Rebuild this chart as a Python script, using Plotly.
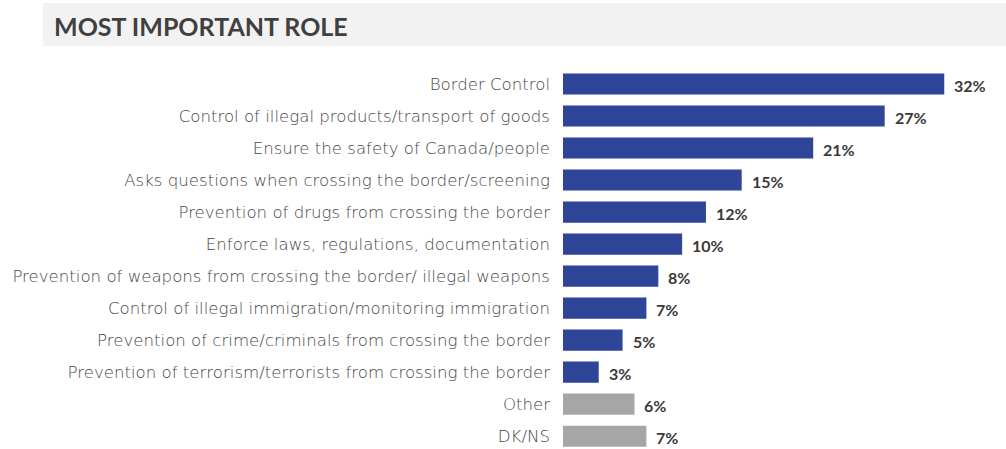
import plotly.graph_objects as go

categories = [
    "Border Control",
    "Control of illegal products/transport of goods",
    "Ensure the safety of Canada/people",
    "Asks questions when crossing the border/screening",
    "Prevention of drugs from crossing the border",
    "Enforce laws, regulations, documentation",
    "Prevention of weapons from crossing the border/ illegal weapons",
    "Control of illegal immigration/monitoring immigration",
    "Prevention of crime/criminals from crossing the border",
    "Prevention of terrorism/terrorists from crossing the border",
    "Other",
    "DK/NS",
]
values = [32, 27, 21, 15, 12, 10, 8, 7, 5, 3, 6, 7]
value_labels = [f"{v}%" for v in values]
bar_colors = ["#2E4598"] * 10 + ["#A6A6A6"] * 2

W, H = 1006, 449
L, R, T, B = 563, 26, 68, 0

fig = go.Figure(
    go.Bar(
        x=values,
        y=categories,
        orientation="h",
        marker=dict(color=bar_colors, line=dict(width=0)),
        width=0.66,
        cliponaxis=False,
    )
)

# Value labels just past the end of each bar
for cat, v, lab in zip(categories, values, value_labels):
    fig.add_annotation(
        x=v, y=cat, xref="x", yref="y",
        text=f"<b>{lab}</b>", showarrow=False,
        xanchor="left", yanchor="middle", xshift=8, yshift=-1,
        font=dict(family="Lato", size=16, color="#3A3A3A"),
    )

plot_w = W - L - R

def px_to_paper(px):
    return (px - L) / plot_w

plot_h = H - T - B

def py_to_paper(py):
    return (H - B - py) / plot_h

# Title band
fig.add_shape(
    type="rect", xref="paper", yref="paper",
    x0=px_to_paper(43), x1=px_to_paper(1006),
    y0=py_to_paper(46), y1=py_to_paper(3),
    fillcolor="#F2F2F2", line=dict(width=0), layer="below",
)
fig.add_annotation(
    xref="paper", yref="paper",
    x=px_to_paper(52), y=py_to_paper(26),
    xanchor="left", yanchor="middle",
    text="<b>MOST IMPORTANT ROLE</b>",
    showarrow=False,
    font=dict(family="Lato", size=25, color="#404040"),
)

fig.update_layout(
    width=W, height=H,
    margin=dict(l=L, r=R, t=T, b=B, autoexpand=False),
    paper_bgcolor="white",
    plot_bgcolor="white",
    showlegend=False,
    xaxis=dict(range=[0, 35], visible=False, fixedrange=True),
    yaxis=dict(
        range=[11.4, -0.5],
        showgrid=False, zeroline=False, showline=False,
        ticks="", automargin=False,
        ticklabelstandoff=12,
        tickfont=dict(family="DejaVu Sans", size=16.6, color="#474747", weight=300),
    ),
)

fig.write_html("out.html")
